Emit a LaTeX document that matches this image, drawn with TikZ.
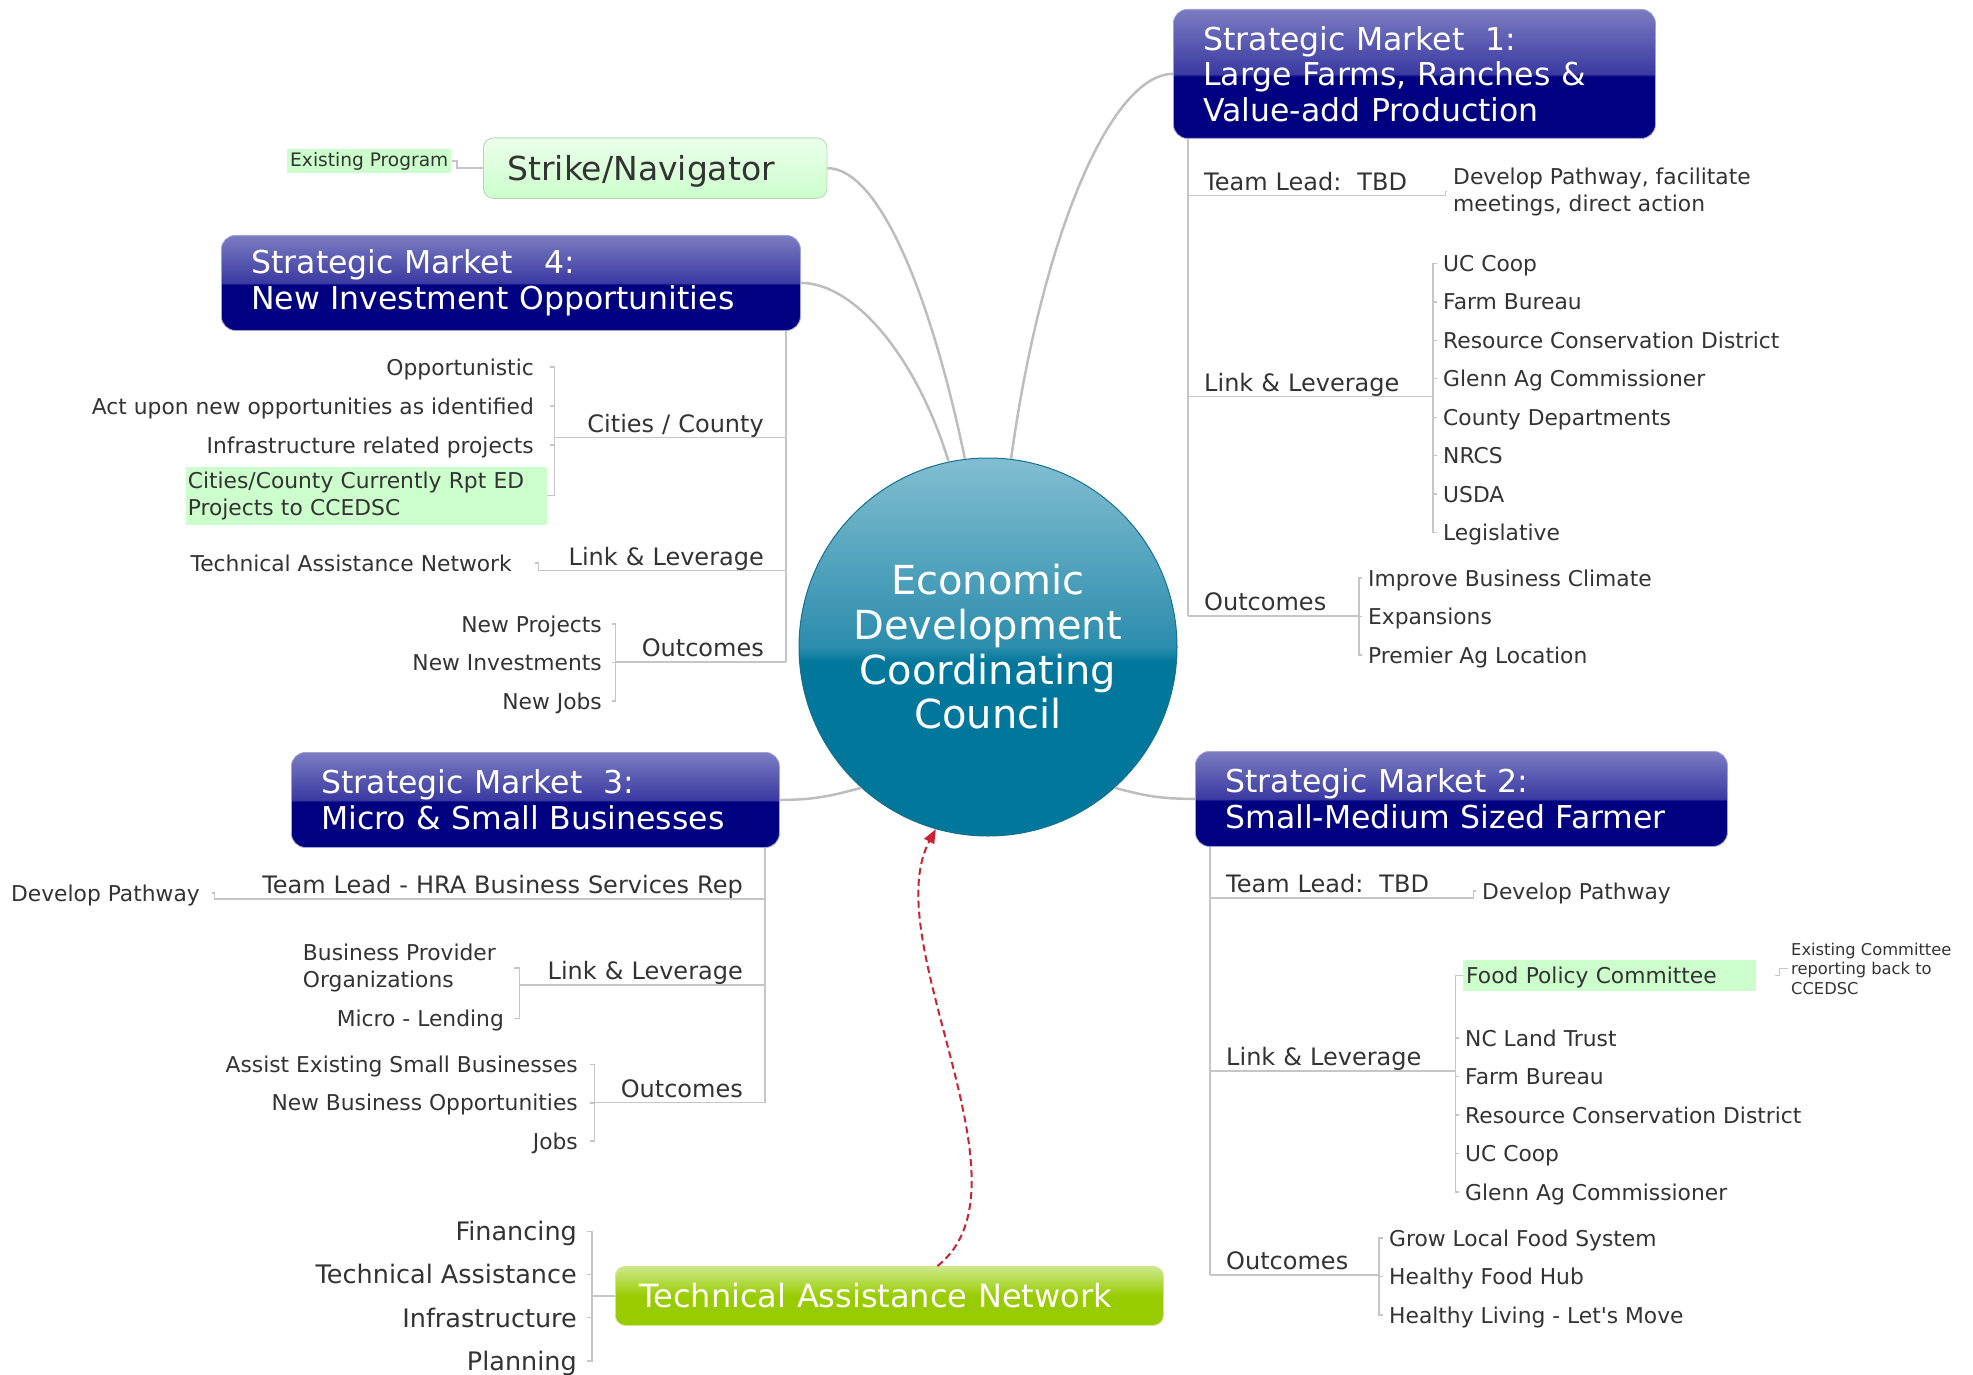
\documentclass[tikz,border=0pt]{standalone}
\usepackage{fontspec}
\setmainfont{DejaVu Sans}[Ligatures=TeXOff]
\usetikzlibrary{arrows.meta}

\definecolor{navybox}{HTML}{000080}
\definecolor{navymid}{HTML}{3A3AA2}
\definecolor{navytop}{HTML}{7C7CC2}
\definecolor{coredark}{HTML}{00779B}
\definecolor{coremid}{HTML}{2C8DAD}
\definecolor{corelight}{HTML}{82BED1}
\definecolor{corerim}{HTML}{16708F}
\definecolor{limedark}{HTML}{99CC00}
\definecolor{limelight}{HTML}{CDE98C}
\definecolor{mintfill}{HTML}{CCFFCC}
\definecolor{minttop}{HTML}{EBFFEB}
\definecolor{mintrim}{HTML}{B2D8B2}
\definecolor{branchgray}{HTML}{BDBDBD}
\definecolor{twiggray}{HTML}{C6C6C6}
\definecolor{inkgray}{HTML}{333333}
\definecolor{linkred}{HTML}{CC2233}

\pgfdeclareverticalshading{marketshade}{100bp}{color(0bp)=(navybox); color(49bp)=(navybox); color(50bp)=(navymid); color(75bp)=(navytop); color(100bp)=(navytop)}
\pgfdeclareverticalshading{coreshade}{100bp}{color(0bp)=(coredark); color(48bp)=(coredark); color(50bp)=(coremid); color(75bp)=(corelight); color(100bp)=(corelight)}
\pgfdeclareverticalshading{limeshade}{100bp}{color(0bp)=(limedark); color(50bp)=(limedark); color(75bp)=(limelight); color(100bp)=(limelight)}
\pgfdeclareverticalshading{mintshade}{100bp}{color(0bp)=(mintfill); color(25bp)=(mintfill); color(75bp)=(minttop); color(100bp)=(minttop)}

\begin{document}
\begin{tikzpicture}[x=1pt, y=1pt,
  core/.style={circle, minimum size=378pt, inner sep=0pt, shading=coreshade, draw=corerim, line width=1pt, text=white, align=center, font=\fontsize{40}{44.7}\selectfont},
  market/.style={anchor=north west, rounded corners=14pt, shading=marketshade, draw=navytop!70!white, line width=0.8pt, text=white, align=left, inner xsep=30pt, inner ysep=0pt, font=\fontsize{31.5}{35.5}\selectfont},
  program/.style={anchor=north west, rounded corners=10pt, shading=mintshade, draw=mintrim, line width=0.8pt, text=inkgray, align=left, inner xsep=24pt, inner ysep=0pt, text height=24pt, text depth=0pt, font=\fontsize{33}{38}\selectfont},
  network/.style={anchor=north west, rounded corners=10pt, shading=limeshade, draw=limelight, line width=0.8pt, text=white, align=left, inner xsep=24pt, inner ysep=0pt, font=\fontsize{32}{38}\selectfont},
  topic/.style={anchor=south west, align=left, inner xsep=16pt, inner ysep=5pt, text height=17pt, text depth=0pt, text=inkgray, font=\fontsize{24}{28}\selectfont},
  topicl/.style={topic, anchor=south east, align=right, inner xsep=22pt},
  leaf/.style={text=inkgray, inner xsep=6pt, inner ysep=2pt, text height=18pt, text depth=2pt, font=\fontsize{21.8}{27}\selectfont},
  note/.style={text=inkgray, inner xsep=6pt, inner ysep=2pt, align=left, font=\fontsize{21.8}{27}\selectfont},
  tool/.style={leaf, text height=21pt, text depth=2.4pt, font=\fontsize{25.5}{30}\selectfont},
  hilite/.style={fill=mintfill},
  tag/.style={fill=mintfill, text=inkgray, inner sep=3pt, font=\fontsize{18.6}{22}\selectfont},
  branch/.style={draw=branchgray, line width=2.5pt},
  twig/.style={draw=twiggray, line width=1.4pt},
  linkarrow/.style={draw=linkred, line width=2pt, dash pattern=on 7pt off 4pt, -{Triangle[length=14pt,width=11pt]}}]

\useasboundingbox (0,0) rectangle (1973,-1375);

\node[core] (core) at (988,-647) {Economic\\Development\\Coordinating\\Council};

\node[market, text width=422pt, minimum height=129pt] (sm1) at (1173,-9) {Strategic Market\ \ 1:\\Large Farms, Ranches \&\\Value-add Production};
\node[market, text width=472pt, minimum height=95pt] (sm2) at (1195,-751) {Strategic Market 2:\\Small-Medium Sized Farmer};
\node[market, text width=428pt, minimum height=95pt] (sm3) at (291,-752) {Strategic Market\ \ 3:\\Micro \& Small Businesses};
\node[market, text width=519pt, minimum height=95pt] (sm4) at (221,-235) {Strategic Market\ \ \ 4:\\New Investment Opportunities};
\node[program, text width=295.5pt, minimum height=60.5pt] (strike) at (483,-137.5) {Strike/Navigator};
\node[network, text width=500pt, minimum height=59pt] (tan) at (615,-1266) {Technical Assistance Network};
\node[tag, anchor=east] (prog) at (451.5,-161) {Existing Program};

\draw[branch] (strike.east) .. controls +(53,0) and +(-33,159) .. (core.97.6);
\draw[branch] (sm4.east) .. controls +(55,0) and +(-31,102) .. (core.102.8);
\draw[branch] (sm1.west) .. controls +(-63,0) and +(30,219) .. (core.83.3);
\draw[branch] (sm3.east) .. controls +(35,0) and +(-30,-8) .. (core.228.2);
\draw[branch] (sm2.west) .. controls +(-35,0) and +(30,-8) .. (core.312.6);
\draw[twig] (strike.west) -- ++(-26,0) |- (prog.east);
\draw[linkarrow] ([xshift=48pt]tan.north) .. controls +(102,80) and +(-60,-112) .. (core.254.4);

\node[topic, text width=222pt] (lead1) at (1188,-195.5) {Team Lead:\ \ TBD};
\node[topic, text width=211pt] (link1) at (1188,-396.5) {Link \& Leverage};
\node[topic, text width=137pt] (out1) at (1188,-616) {Outcomes};
\draw[twig] (lead1.south west |- sm1.south) -- (out1.south west);
\node[note, anchor=west] (path1) at (1447,-191.5) {Develop Pathway, facilitate\\meetings, direct action};
\draw[twig] (lead1.south east) -- ++(3,0) |- (path1.west);
\foreach \txt [count=\i] in {UC Coop, Farm Bureau, Resource Conservation District, Glenn Ag Commissioner, County Departments, NRCS, USDA, Legislative}{
  \node[leaf, anchor=west] (link1-\i) at (1437,{-263.4-38.45*(\i-1)}) {\txt};
  \draw[twig] (link1.south east) -- ++(1.5,0) |- (link1-\i.west);
}
\foreach \txt [count=\i] in {Improve Business Climate, Expansions, Premier Ag Location}{
  \node[leaf, anchor=west] (out1-\i) at (1362,{-578-38.5*(\i-1)}) {\txt};
  \draw[twig] (out1.south east) -- ++(1.5,0) |- (out1-\i.west);
}

\node[topic, text width=228pt] (lead2) at (1210,-898) {Team Lead:\ \ TBD};
\node[topic, text width=211pt] (link2) at (1210,-1071) {Link \& Leverage};
\node[topic, text width=135pt] (out2) at (1210,-1275) {Outcomes};
\draw[twig] (lead2.south west |- sm2.south) -- (out2.south west);
\node[leaf, anchor=west] (path2) at (1476,-891) {Develop Pathway};
\draw[twig] (lead2.south east) -- ++(3,0) |- (path2.west);
\node[leaf, hilite, anchor=west, text width=287pt, inner xsep=3pt, inner ysep=5.7pt] (food) at (1463,-975.3) {Food Policy Committee};
\draw[twig] (link2.south east) -- ++(2,0) |- (food.west);
\node[note, anchor=west, inner xsep=3pt, font=\fontsize{16.3}{19.5}\selectfont] (foodnote) at (1788,-968.5) {Existing Committee\\reporting back to\\CCEDSC};
\draw[twig] ([xshift=19pt]food.east) -- ++(4,0) |- (foodnote.west);
\foreach \txt [count=\i] in {NC Land Trust, Farm Bureau, Resource Conservation District, UC Coop, Glenn Ag Commissioner}{
  \node[leaf, anchor=west] (link2-\i) at (1459,{-1038-38.5*(\i-1)}) {\txt};
  \draw[twig] (link2.south east) -- ++(2,0) |- (link2-\i.west);
}
\foreach \txt [count=\i] in {Grow Local Food System, Healthy Food Hub, Healthy Living - Let's Move}{
  \node[leaf, anchor=west] (out2-\i) at (1383,{-1238-38.5*(\i-1)}) {\txt};
  \draw[twig] (out2.south east) -- ++(1.5,0) |- (out2-\i.west);
}

\node[topicl, text width=185pt] (city4) at (786,-437.5) {Cities / County};
\node[topicl, text width=200pt] (link4) at (786,-570.5) {Link \& Leverage};
\node[topicl, text width=125pt] (out4) at (786,-662) {Outcomes};
\draw[twig] (city4.south east |- sm4.south) -- (out4.south east);
\foreach \txt [count=\i] in {Opportunistic, Act upon new opportunities as identified, Infrastructure related projects}{
  \node[leaf, anchor=east, inner xsep=16pt] (city4-\i) at (550,{-367-39*(\i-1)}) {\txt};
  \draw[twig] (city4.south west) -- ++(-2,0) |- (city4-\i.east);
}
\node[note, hilite, anchor=east, text width=357pt, inner xsep=2pt, inner ysep=0pt, minimum height=58pt] (city4-4) at (547,-495.5) {Cities/County Currently Rpt ED\\Projects to CCEDSC};
\draw[twig] (city4.south west) -- ++(-2,0) |- (city4-4.east);
\node[leaf, anchor=east, inner xsep=23pt] (tan4) at (535,-563) {Technical Assistance Network};
\draw[twig] (link4.south west) -- ++(-3,0) |- (tan4.east);
\foreach \txt [count=\i] in {New Projects, New Investments, New Jobs}{
  \node[leaf, anchor=east, inner xsep=10pt] (out4-\i) at (612,{-624-38.5*(\i-1)}) {\txt};
  \draw[twig] (out4.south west) -- ++(-1,0) |- (out4-\i.east);
}

\node[topicl, text width=504pt] (lead3) at (765,-899) {Team Lead - HRA Business Services Rep};
\node[topicl, text width=200pt] (link3) at (765,-985) {Link \& Leverage};
\node[topicl, text width=125pt] (out3) at (765,-1102.5) {Outcomes};
\draw[twig] (lead3.south east |- sm3.south) -- (out3.south east);
\node[leaf, anchor=east, inner xsep=12pt] (path3) at (212,-893) {Develop Pathway};
\draw[twig] (lead3.south west) -- ++(-2,0) |- (path3.east);
\node[note, anchor=east, inner xsep=18pt] (link3-1) at (514,-968) {Business Provider\\Organizations};
\node[leaf, anchor=east, inner xsep=10pt] (link3-2) at (514,-1018.5) {Micro - Lending};
\foreach \i in {1,2}
  \draw[twig] (link3.south west) -- ++(-1,0) |- (link3-\i.east);
\foreach \txt [count=\i] in {Assist Existing Small Businesses, New Business Opportunities, Jobs}{
  \node[leaf, anchor=east, inner xsep=12pt] (out3-\i) at (590,{-1064.6-38.2*(\i-1)}) {\txt};
  \draw[twig] (out3.south west) -- ++(-1,0) |- (out3-\i.east);
}

\foreach \txt [count=\i] in {Financing, Technical Assistance, Infrastructure, Planning}{
  \node[tool, anchor=east, inner xsep=10pt] (tool-\i) at (587,{-1231.6-43.07*(\i-1)}) {\txt};
  \draw[twig] (tan.west) -- ++(-23,0) |- (tool-\i.east);
}
\foreach \t in {lead1,link1,out1,lead2,link2,out2,city4,link4,out4,lead3,link3,out3}
  \draw[twig] (\t.south west) -- (\t.south east);
\end{tikzpicture}
\end{document}
